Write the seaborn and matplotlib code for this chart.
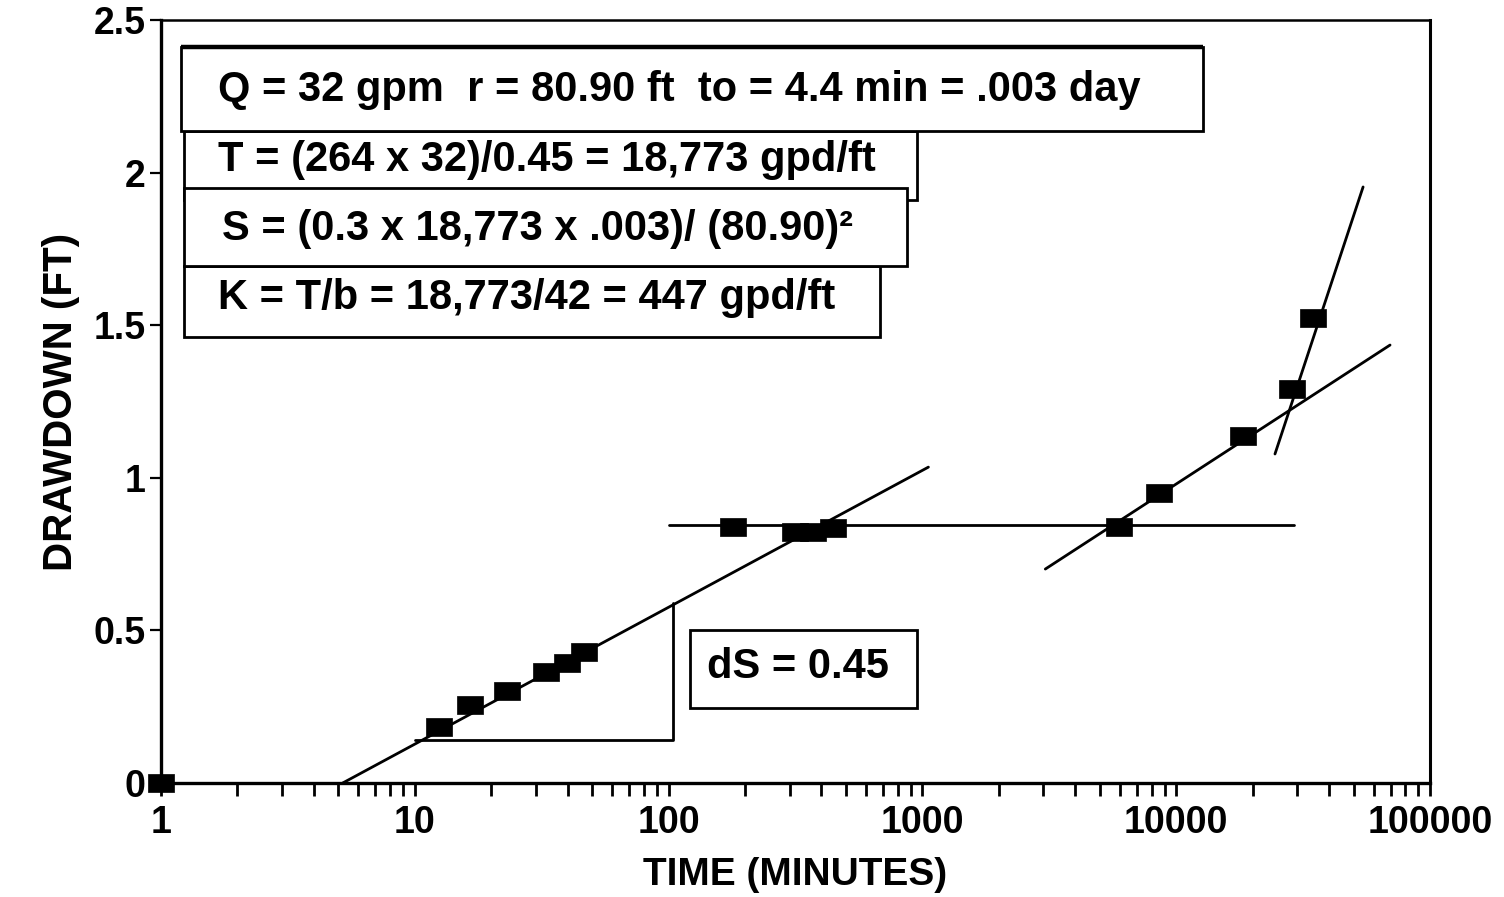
import matplotlib
matplotlib.use("Agg")
import matplotlib.pyplot as plt
from matplotlib.path import Path
from matplotlib.patches import Rectangle
from matplotlib.ticker import FixedLocator, FixedFormatter, LogLocator, NullFormatter
import pandas as pd
import seaborn as sns

# Observed drawdown in the observation well
time_min = [1, 12.4, 16.5, 23, 33, 39.7, 46.3, 180, 316, 369, 443,
            5970, 8570, 18400, 28600, 34600]
drawdown_ft = [0.0, 0.183, 0.255, 0.301, 0.364, 0.393, 0.429, 0.839, 0.822,
               0.822, 0.835, 0.839, 0.950, 1.137, 1.291, 1.524]

# Straight-line fits drawn through the data (end points)
early_fit_t = [5.2, 1056]
early_fit_s = [0.0, 1.035]
plateau_t = [100, 29000]
plateau_s = [0.845, 0.845]
late_fit_t = [3050, 69600]
late_fit_s = [0.701, 1.435]
steep_fit_t = [24500, 54500]
steep_fit_s = [1.078, 1.953]

# One log cycle used to read the slope dS
cycle_t = [10, 104, 104]
cycle_s = [0.141, 0.141, 0.59]

x_ticks = [1, 10, 100, 1000, 10000, 100000]
x_tick_labels = ["1", "10", "100", "1000", "10000", "100000"]
y_ticks = [0, 0.5, 1, 1.5, 2, 2.5]
y_tick_labels = ["0", "0.5", "1", "1.5", "2", "2.5"]

calc_lines = [
    "Q = 32 gpm  r = 80.90 ft  to = 4.4 min = .003 day",
    "T = (264 x 32)/0.45 = 18,773 gpd/ft",
    "S = (0.3 x 18,773 x .003)/ (80.90)\u00b2",
    "K = T/b = 18,773/42 = 447 gpd/ft",
]
slope_label = "dS = 0.45"

sns.set_theme(style="ticks")
plt.rcParams["font.family"] = ["Liberation Sans", "DejaVu Sans"]
plt.rcParams["font.weight"] = "bold"
plt.rcParams["axes.labelweight"] = "bold"

W, H = 1504, 897
fig = plt.figure(figsize=(W / 100, H / 100), dpi=100)
ax_l, ax_r, ax_t, ax_b = 161, 1430, 20, 783
ax = fig.add_axes([ax_l / W, 1 - ax_b / H, (ax_r - ax_l) / W, (ax_b - ax_t) / H])
ax.set_xscale("log")

ink = "black"
lw = 2.0

# fitted lines
for tt, ss in [(early_fit_t, early_fit_s), (plateau_t, plateau_s),
               (late_fit_t, late_fit_s), (steep_fit_t, steep_fit_s),
               (cycle_t, cycle_s)]:
    sns.lineplot(x=tt, y=ss, ax=ax, color=ink, linewidth=lw,
                 sort=False, estimator=None)

# wide rectangular markers for the observations
rect = Path([(-0.5, -0.34), (0.5, -0.34), (0.5, 0.34), (-0.5, 0.34), (-0.5, -0.34)],
            [Path.MOVETO, Path.LINETO, Path.LINETO, Path.LINETO, Path.CLOSEPOLY])
obs = pd.DataFrame({"time": time_min, "drawdown": drawdown_ft})
sns.scatterplot(data=obs, x="time", y="drawdown", ax=ax, marker=rect, s=330,
                color=ink, edgecolor=ink, linewidth=0.5, clip_on=False, zorder=5)

ax.set_xlim(1, 100000)
ax.set_ylim(0, 2.5)

ax.xaxis.set_major_locator(FixedLocator(x_ticks))
ax.xaxis.set_major_formatter(FixedFormatter(x_tick_labels))
ax.xaxis.set_minor_locator(LogLocator(base=10, subs=range(2, 10), numticks=20))
ax.xaxis.set_minor_formatter(NullFormatter())
ax.yaxis.set_major_locator(FixedLocator(y_ticks))
ax.yaxis.set_major_formatter(FixedFormatter(y_tick_labels))

ax.tick_params(axis="x", which="both", direction="out", length=9.5, width=2,
               color=ink, labelsize=27, pad=6, labelcolor=ink)
ax.tick_params(axis="y", which="major", direction="out", length=8, width=1.6,
               color=ink, labelsize=27, pad=3, labelcolor=ink)
ax.tick_params(axis="y", which="minor", length=0)

for side, w in [("left", 2.4), ("bottom", 2.4), ("top", 1.8), ("right", 2.2)]:
    ax.spines[side].set_visible(True)
    ax.spines[side].set_linewidth(w)
    ax.spines[side].set_color(ink)

ax.set_xlabel("TIME (MINUTES)", fontsize=28, color=ink, labelpad=12)
ax.set_ylabel("DRAWDOWN (FT)", fontsize=29, color=ink, labelpad=10)
ax.grid(False)


def px_box(x0, y0, x1, y1):
    """Axes-fraction rectangle from figure pixel corners."""
    fx0 = (x0 - ax_l) / (ax_r - ax_l)
    fx1 = (x1 - ax_l) / (ax_r - ax_l)
    fy0 = (ax_b - y1) / (ax_b - ax_t)
    fy1 = (ax_b - y0) / (ax_b - ax_t)
    return fx0, fy0, fx1 - fx0, fy1 - fy0


def px_pt(x, y):
    return (x - ax_l) / (ax_r - ax_l), (ax_b - y) / (ax_b - ax_t)


# calculation boxes: (pixel box, text anchor, z-order)
calc_boxes = [
    ((181, 47, 1203, 131), (218, 90), 7),
    ((184, 131, 917, 200), (218, 160), 6),
    ((184, 188, 907, 266), (222, 229), 7),
    ((184, 266, 880, 337), (218, 298), 6),
]
for (box, anchor, z), label in zip(calc_boxes, calc_lines):
    x, y, w, h = px_box(*box)
    ax.add_patch(Rectangle((x, y), w, h, transform=ax.transAxes, facecolor="white",
                           edgecolor=ink, linewidth=2.0, zorder=z, clip_on=False))
    tx, ty = px_pt(*anchor)
    ax.text(tx, ty, label, transform=ax.transAxes, fontsize=30, color=ink,
            ha="left", va="center", zorder=z + 0.5)

# thicker top rule of the first box
x, y, w, h = px_box(181, 47, 1203, 131)
ax.plot([x, x + w], [y + h, y + h], transform=ax.transAxes, color=ink,
        linewidth=3.2, zorder=8, solid_capstyle="butt")

x, y, w, h = px_box(690, 630, 917, 708)
ax.add_patch(Rectangle((x, y), w, h, transform=ax.transAxes, facecolor="white",
                       edgecolor=ink, linewidth=2.0, zorder=6))
tx, ty = px_pt(707, 667)
ax.text(tx, ty, slope_label, transform=ax.transAxes, fontsize=30, color=ink,
        ha="left", va="center", zorder=6.5)

fig.savefig("out.png", dpi=100, facecolor="white")
